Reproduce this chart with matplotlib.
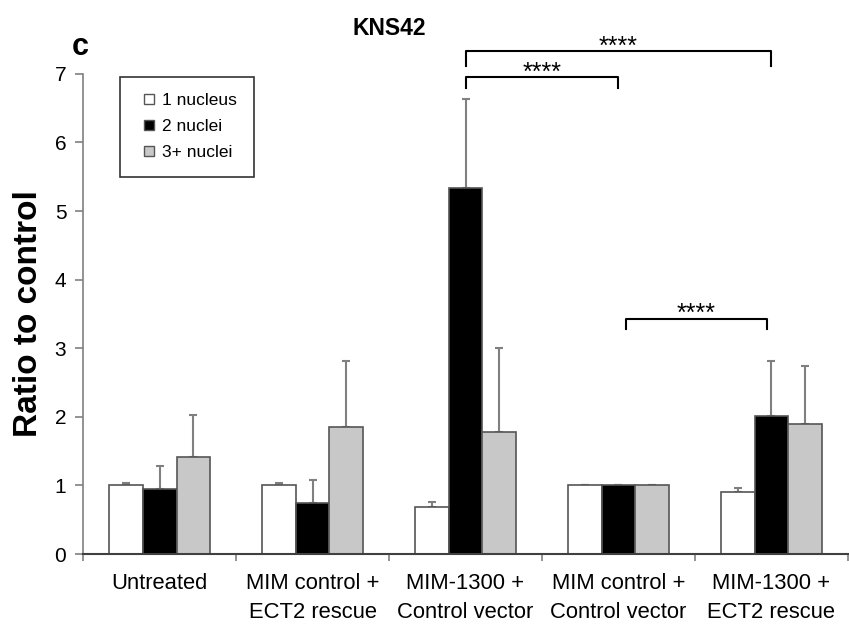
import numpy as np
import matplotlib.pyplot as plt
from matplotlib.lines import Line2D

plt.rcParams['font.family'] = ['Liberation Sans', 'DejaVu Sans']

groups = ['Untreated', 'MIM control +\nECT2 rescue', 'MIM-1300 +\nControl vector',
          'MIM control +\nControl vector', 'MIM-1300 +\nECT2 rescue']
series = ['1 nucleus', '2 nuclei', '3+ nuclei']
one_nucleus = [1.0, 1.0, 0.68, 1.0, 0.91]
one_err = [0.03, 0.03, 0.08, 0.005, 0.05]
two_nuclei = [0.95, 0.75, 5.34, 1.0, 2.01]
two_err = [0.34, 0.33, 1.30, 0.005, 0.81]
three_nuclei = [1.42, 1.85, 1.78, 1.0, 1.90]
three_err = [0.61, 0.97, 1.22, 0.005, 0.84]
colors = ['white', 'black', '#c8c8c8']

# significance brackets: (x start, x end, height, drop)
brackets = [(2.0, 4.0, 7.33, 0.22), (2.0, 3.0, 6.95, 0.16), (3.05, 3.97, 3.43, 0.15)]

fig = plt.figure(figsize=(8.49, 6.26), dpi=100)
ax = fig.add_axes([0.0978, 0.115, 0.901, 0.767])

x = np.arange(len(groups))
w = 0.222
data = [(one_nucleus, one_err), (two_nuclei, two_err), (three_nuclei, three_err)]
for k, (vals, errs) in enumerate(data):
    ax.bar(x + (k - 1) * w, vals, w, color=colors[k], edgecolor='#555555', linewidth=1.2,
           zorder=2)
    ax.errorbar(x + (k - 1) * w, vals, yerr=[np.zeros(len(errs)), errs], fmt='none',
                ecolor='#808080', elinewidth=1.5, capsize=3, capthick=1.5, zorder=1)

for x0, x1, h, d in brackets:
    ax.plot([x0, x0, x1, x1], [h - d, h, h, h - d], color='black', lw=1.5,
            clip_on=False, zorder=3)
    ax.text((x0 + x1) / 2, h + 0.07, '****', ha='center', va='center', fontsize=18)

ax.set_xlim(-0.5, 4.5)
ax.set_ylim(0, 7)
ax.set_yticks(range(8))
ax.set_xticks(x)
ax.set_xticklabels(groups, fontsize=15.8, linespacing=1.45)
ax.set_xticks(np.arange(-0.5, 5, 1), minor=True)
ax.tick_params(axis='x', which='major', length=0, pad=14)
ax.tick_params(axis='x', which='minor', length=5, color='#808080', width=1.2)
ax.tick_params(axis='y', length=6, color='#808080', width=1.2, labelsize=15, pad=6)
for s in ['top', 'right']:
    ax.spines[s].set_visible(False)
ax.spines['left'].set_color('#808080')
ax.spines['bottom'].set_color('#404040')
ax.spines['left'].set_linewidth(1.2)
ax.spines['bottom'].set_linewidth(1.5)
ax.set_ylabel('Ratio to control', fontsize=24, fontweight='bold', labelpad=8)

handles = [Line2D([], [], ls='none', marker='s', ms=7, mfc=c, mec='#555555', mew=1)
           for c in colors]
leg = ax.legend(handles, series, loc='upper left', bbox_to_anchor=(0.048, 0.994),
                borderaxespad=0, fontsize=12.5, frameon=True, fancybox=False,
                edgecolor='black', handlelength=1.5, handletextpad=0.0, borderpad=0.95,
                labelspacing=0.62)
leg.get_frame().set_linewidth(1.2)

fig.text(0.458, 0.955, 'KNS42', ha='center', va='center', fontsize=16.5, fontweight='bold')
fig.text(0.095, 0.925, 'c', ha='center', va='center', fontsize=22, fontweight='bold')

fig.savefig('out.png', dpi=100)
